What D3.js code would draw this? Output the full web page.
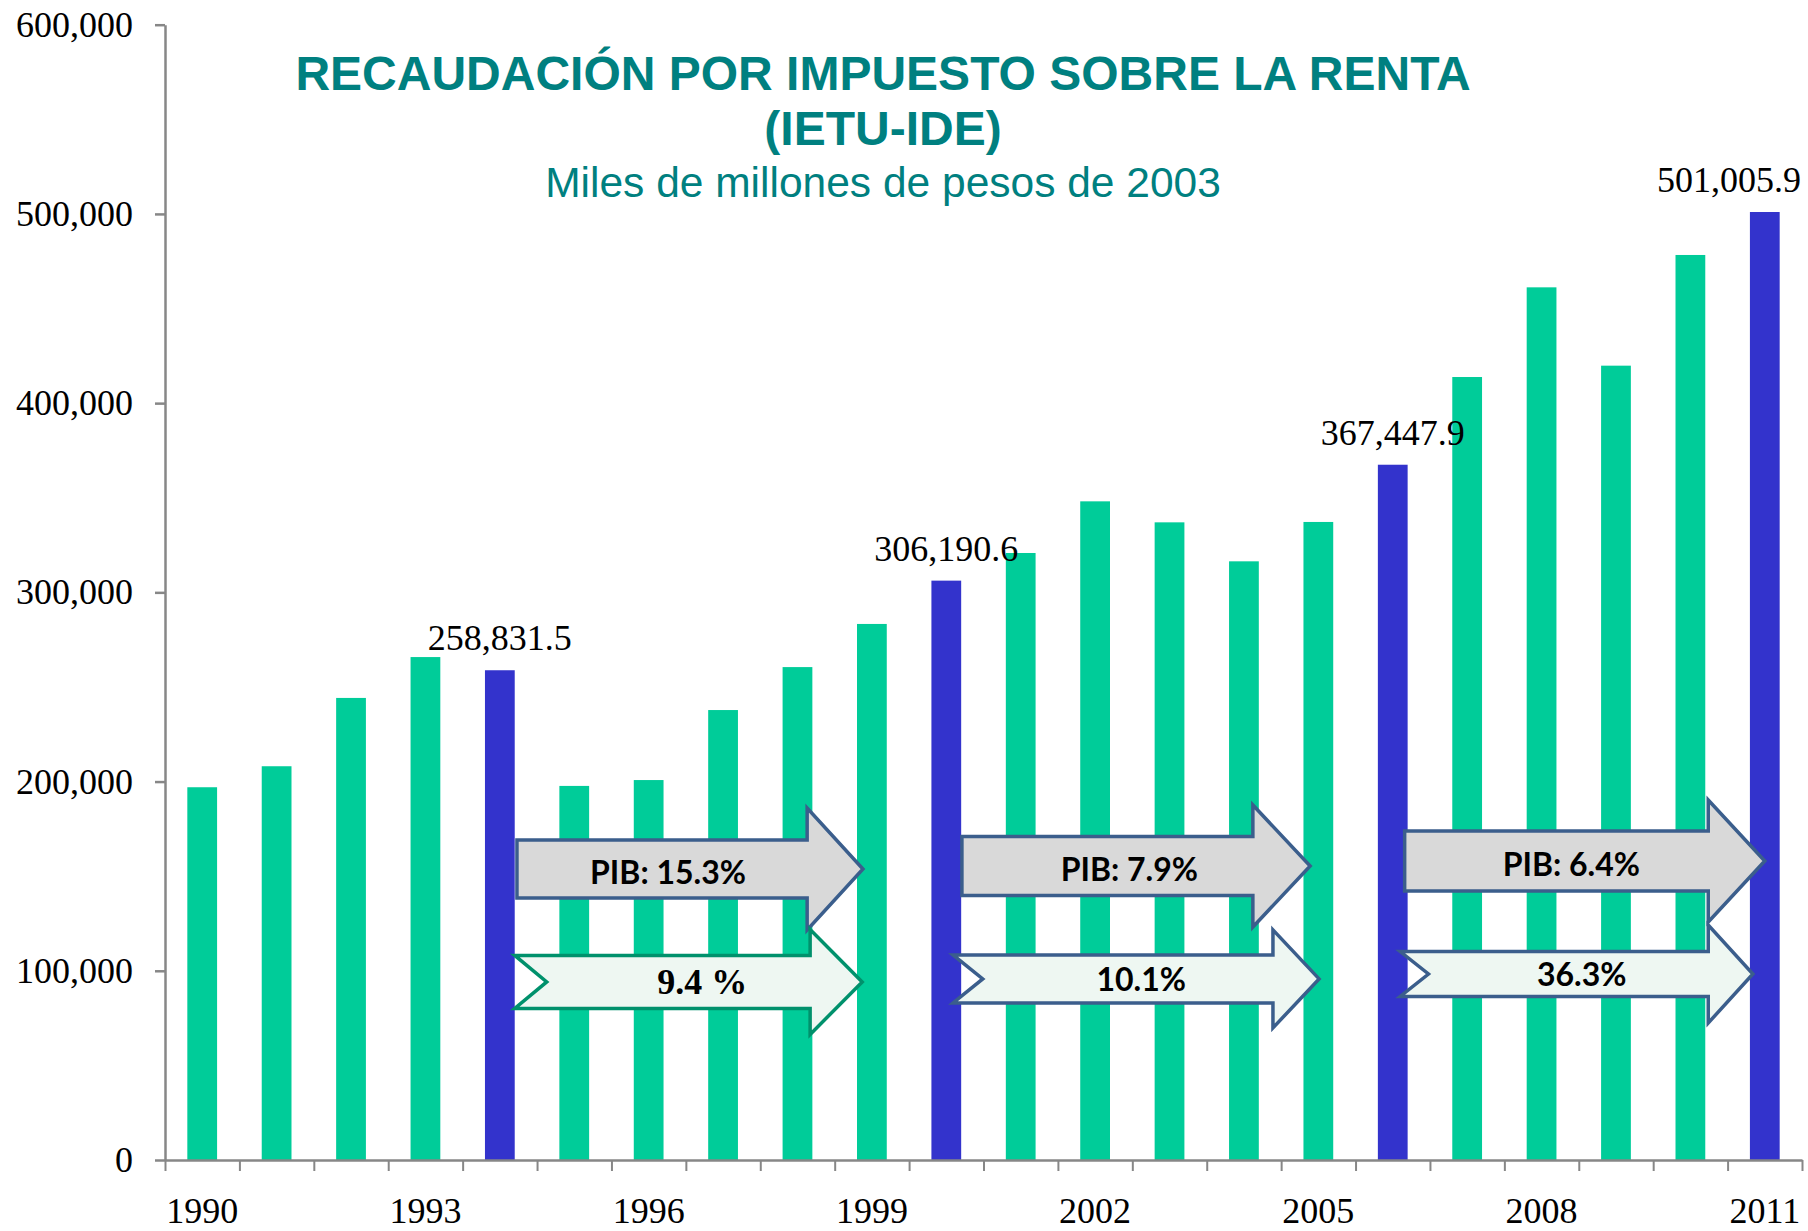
<!DOCTYPE html>
<html>
<head>
<meta charset="utf-8">
<script src="https://cdn.jsdelivr.net/npm/d3@7"></script>
<style>
  html, body { margin: 0; padding: 0; background: #ffffff; }
  svg { display: block; }
</style>
</head>
<body>
<svg id="chart" width="1808" height="1231"></svg>
<script>
// ---------------- DATA ----------------
const years = [1990, 1991, 1992, 1993, 1994, 1995, 1996, 1997, 1998, 1999, 2000,
               2001, 2002, 2003, 2004, 2005, 2006, 2007, 2008, 2009, 2010, 2011];
const revenue = [197000, 208100, 244200, 265800, 258831.5, 197700, 200800, 237800, 260500, 283300, 306190.6,
                 320800, 348100, 337000, 316400, 337200, 367447.9, 413800, 461200, 419800, 478300, 501005.9];
const highlightYears = [1994, 2000, 2006, 2011];
const yTickValues = [0, 100000, 200000, 300000, 400000, 500000, 600000];
const xTickLabels = [1990, 1993, 1996, 1999, 2002, 2005, 2008, 2011];
const pibLabels = ["PIB: 15.3%", "PIB: 7.9%", "PIB: 6.4%"];
const growthLabels = ["9.4 %", "10.1%", "36.3%"];
const titleLines = ["RECAUDACIÓN POR IMPUESTO SOBRE LA RENTA", "(IETU-IDE)"];
const subtitle = "Miles de millones de pesos de 2003";

// ---------------- LAYOUT ----------------
const W = 1808, H = 1231;
const plot = { left: 165, right: 1802, top: 24.7, bottom: 1160 };
const colors = {
  bar: "#00CC99", highlight: "#3333CC", axis: "#878787", title: "#008080",
  arrowStroke: "#3B5E8C", arrowFill: "#D9D9D9", arrow2Fill: "#EEF7F2", arrow2StrokeFirst: "#00916C"
};
// annotation arrow geometry, expressed in (fractional) year positions and data values
const upperLayout = [
  { x0: 1994.23, xh: 1998.13, xt: 1998.88, yc: 153800, bh: 29, hh: 61, tx: 1996.26 },
  { x0: 2000.21, xh: 2004.12, xt: 2004.89, yc: 155400, bh: 29.5, hh: 61, tx: 2002.46 },
  { x0: 2006.16, xh: 2010.24, xt: 2011.00, yc: 158000, bh: 30, hh: 61, tx: 2008.40 }
];
const lowerLayout = [
  { x0: 1994.20, xn: 1994.63, xh: 1998.17, xt: 1998.87, yc: 94100, bh: 26.5, hh: 52.5, tx: 1996.72 },
  { x0: 2000.09, xn: 2000.49, xh: 2004.39, xt: 2005.01, yc: 95700, bh: 24, hh: 49, tx: 2002.62 },
  { x0: 2006.10, xn: 2006.48, xh: 2010.24, xt: 2010.84, yc: 98300, bh: 22.5, hh: 49, tx: 2008.54 }
];

const svg = d3.select("#chart");

const x = d3.scaleBand().domain(years).range([plot.left, plot.right])
  .paddingInner(0.6).paddingOuter(0.3);
const y = d3.scaleLinear().domain([0, 600000]).range([plot.bottom, plot.top]);
const step = x.step();
const xCenter = yr => x(yr) + x.bandwidth() / 2;
const xAt = t => plot.left + (t - years[0] + 0.5) * step;

// ---------------- BARS ----------------
svg.append("g").selectAll("rect")
  .data(years.map((yr, i) => ({ yr, v: revenue[i] })))
  .join("rect")
  .attr("x", d => x(d.yr))
  .attr("y", d => y(d.v))
  .attr("width", x.bandwidth())
  .attr("height", d => y(0) - y(d.v))
  .attr("fill", d => highlightYears.includes(d.yr) ? colors.highlight : colors.bar);

// ---------------- AXES ----------------
const yAxis = d3.axisLeft(y).tickValues(yTickValues).tickSize(10).tickSizeOuter(0)
  .tickPadding(22).tickFormat(d3.format(","));
const gy = svg.append("g").attr("transform", `translate(${plot.left},0)`).call(yAxis);
gy.select(".domain").attr("stroke", colors.axis).attr("stroke-width", 2.5);
gy.selectAll(".tick line").attr("stroke", colors.axis).attr("stroke-width", 2.5);
gy.selectAll(".tick text").attr("font-family", "'Liberation Serif', 'Times New Roman', serif")
  .attr("font-size", 36).attr("fill", "#000");

// boundary ticks on x axis
const xb = d3.scaleLinear().domain([0, years.length]).range([plot.left, plot.right]);
const xAxisTicks = d3.axisBottom(xb).tickValues(d3.range(0, years.length + 1))
  .tickSize(11).tickSizeOuter(0).tickFormat("");
const gx = svg.append("g").attr("transform", `translate(0,${plot.bottom})`).call(xAxisTicks);
gx.select(".domain").attr("stroke", colors.axis).attr("stroke-width", 2.5);
gx.selectAll(".tick line").attr("stroke", colors.axis).attr("stroke-width", 2);

// year labels
const xAxisLabels = d3.axisBottom(x).tickValues(xTickLabels).tickSize(0).tickPadding(37);
const gxl = svg.append("g").attr("transform", `translate(0,${plot.bottom})`).call(xAxisLabels);
gxl.select(".domain").remove();
gxl.selectAll(".tick text").attr("font-family", "'Liberation Serif', 'Times New Roman', serif")
  .attr("font-size", 36).attr("fill", "#000");

// ---------------- VALUE LABELS ----------------
const fmt = d3.format(",.1f");
svg.append("g").selectAll("text")
  .data(highlightYears.map(yr => ({ yr, v: revenue[years.indexOf(yr)] })))
  .join("text")
  .attr("font-family", "'Liberation Serif', 'Times New Roman', serif")
  .attr("font-size", 36)
  .attr("fill", "#000")
  .attr("text-anchor", "middle")
  .attr("y", d => y(d.v) - 20)
  .text(d => fmt(d.v))
  .attr("x", function (d) {
    const w = this.getComputedTextLength();
    return Math.min(xCenter(d.yr), W - 7 - w / 2);
  });

// ---------------- ARROWS ----------------
const ga = svg.append("g");
upperLayout.forEach((a, i) => {
  const x0 = xAt(a.x0), xh = xAt(a.xh), xt = xAt(a.xt), yc = y(a.yc);
  const pts = [
    [x0, yc - a.bh], [xh, yc - a.bh], [xh, yc - a.hh], [xt, yc],
    [xh, yc + a.hh], [xh, yc + a.bh], [x0, yc + a.bh]
  ];
  ga.append("path").attr("d", d3.line()(pts) + "Z")
    .attr("fill", colors.arrowFill).attr("stroke", colors.arrowStroke)
    .attr("stroke-width", 3.5).attr("stroke-linejoin", "miter");
  ga.append("text").attr("x", xAt(a.tx)).attr("y", yc + 15)
    .attr("text-anchor", "middle")
    .attr("font-family", "Lato, 'Open Sans', sans-serif").attr("font-weight", 700)
    .attr("font-size", 32).attr("fill", "#000")
    .text(pibLabels[i]);
});
lowerLayout.forEach((a, i) => {
  const x0 = xAt(a.x0), xn = xAt(a.xn), xh = xAt(a.xh), xt = xAt(a.xt), yc = y(a.yc);
  const pts = [
    [x0, yc - a.bh], [xh, yc - a.bh], [xh, yc - a.hh], [xt, yc],
    [xh, yc + a.hh], [xh, yc + a.bh], [x0, yc + a.bh], [xn, yc]
  ];
  ga.append("path").attr("d", d3.line()(pts) + "Z")
    .attr("fill", colors.arrow2Fill)
    .attr("stroke", i === 0 ? colors.arrow2StrokeFirst : colors.arrowStroke)
    .attr("stroke-width", 3.5).attr("stroke-linejoin", "miter");
  const serif = i === 0;
  ga.append("text").attr("x", xAt(a.tx)).attr("y", yc + 12)
    .attr("text-anchor", "middle")
    .attr("font-family", serif ? "'Liberation Serif', 'Times New Roman', serif" : "Lato, 'Open Sans', sans-serif")
    .attr("font-weight", 700)
    .attr("font-size", serif ? 36 : 32).attr("fill", "#000")
    .text(growthLabels[i]);
});

// ---------------- TITLES ----------------
const cx = 883;
svg.append("text").attr("x", cx).attr("y", 90).attr("text-anchor", "middle")
  .attr("font-family", "'Liberation Sans', Arial, sans-serif").attr("font-weight", 700)
  .attr("font-size", 48).attr("fill", colors.title).text(titleLines[0]);
svg.append("text").attr("x", cx).attr("y", 145).attr("text-anchor", "middle")
  .attr("font-family", "'Liberation Sans', Arial, sans-serif").attr("font-weight", 700)
  .attr("font-size", 48).attr("fill", colors.title).text(titleLines[1]);
svg.append("text").attr("x", cx).attr("y", 197).attr("text-anchor", "middle")
  .attr("font-family", "'Liberation Sans', Arial, sans-serif")
  .attr("font-size", 42.5).attr("fill", colors.title).text(subtitle);
</script>
</body>
</html>
